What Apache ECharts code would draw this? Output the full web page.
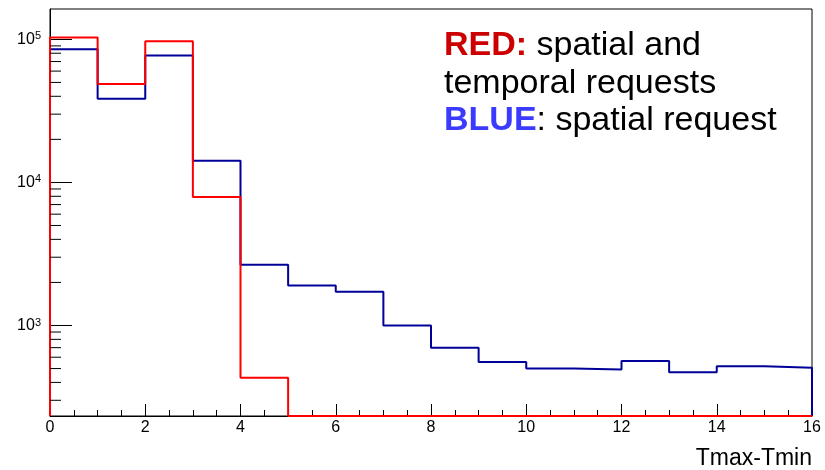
<!DOCTYPE html>
<html>
<head>
<meta charset="utf-8">
<script src="https://cdn.jsdelivr.net/npm/echarts@6/dist/echarts.min.js"></script>
<style>
  html, body { margin: 0; padding: 0; background: #fff; }
  #chart { width: 825px; height: 470px; }
</style>
</head>
<body>
<div id="chart"></div>
<script>
// ---- data ----
const BIN_EDGES = [0, 1, 2, 3, 4, 5, 6, 7, 8, 9, 10, 11, 12, 13, 14, 15, 16];
const BLUE_COUNTS = [85300, 38500, 77000, 14200, 2660, 1900, 1720, 1000, 700, 555, 500, 493, 564, 472, 518, 507];
const RED_COUNTS = [103000, 48800, 97000, 7900, 431, 0, 0, 0, 0, 0, 0, 0, 0, 0, 0, 0];
const X_TICKS = [0, 2, 4, 6, 8, 10, 12, 14, 16];
const Y_MAJOR_TICKS = [1000, 10000, 100000];
const Y_MINOR_TICKS = [300, 400, 500, 600, 700, 800, 900,
  2000, 3000, 4000, 5000, 6000, 7000, 8000, 9000,
  20000, 30000, 40000, 50000, 60000, 70000, 80000, 90000];
const Y_MIN = 233;
const Y_MAX = 163000;
const X_TITLE = 'Tmax-Tmin';

const FONT = '"Liberation Sans", Arial, Helvetica, sans-serif';

function histPoints(counts) {
  const pts = [[BIN_EDGES[0], Y_MIN]];
  counts.forEach((c, i) => pts.push([BIN_EDGES[i], c > 0 ? c : Y_MIN]));
  const last = counts[counts.length - 1];
  pts.push([BIN_EDGES[BIN_EDGES.length - 1], last > 0 ? last : Y_MIN]);
  pts.push([BIN_EDGES[BIN_EDGES.length - 1], Y_MIN]);
  return pts;
}

const chart = echarts.init(document.getElementById('chart'), null, { renderer: 'canvas' });

const option = {
  animation: false,
  backgroundColor: '#ffffff',
  textStyle: { fontFamily: FONT },
  title: {
    left: 444,
    top: 27,
    padding: 0,
    text: '{r|RED:}{n| spatial and}\n{n|temporal requests}\n{b|BLUE}{n|: spatial request}',
    textStyle: {
      fontFamily: FONT,
      rich: {
        r: { color: '#cc0000', fontWeight: 'bold', fontSize: 34, lineHeight: 37.5, fontFamily: FONT },
        b: { color: '#3b3bff', fontWeight: 'bold', fontSize: 34, lineHeight: 37.5, fontFamily: FONT },
        n: { color: '#000000', fontWeight: 'normal', fontSize: 34, lineHeight: 37.5, fontFamily: FONT }
      }
    }
  },
  grid: {
    left: 50, right: 13, top: 9, bottom: 54,
    show: true, borderColor: '#000', borderWidth: 1, backgroundColor: 'transparent'
  },
  xAxis: {
    type: 'value',
    min: X_TICKS[0],
    max: X_TICKS[X_TICKS.length - 1],
    interval: X_TICKS[1] - X_TICKS[0],
    name: X_TITLE,
    nameLocation: 'end',
    nameGap: 0,
    nameTextStyle: {
      fontFamily: FONT, fontSize: 23, color: '#000',
      align: 'right', verticalAlign: 'top', padding: [31, 0, 0, 0]
    },
    axisLine: { show: true, lineStyle: { color: '#000', width: 1 } },
    axisTick: { show: true, inside: true, length: 12, lineStyle: { color: '#000' } },
    minorTick: { show: true, splitNumber: 4, length: 6, lineStyle: { color: '#000' } },
    splitLine: { show: false },
    axisLabel: { color: '#000', fontSize: 16, margin: 4, fontFamily: FONT }
  },
  yAxis: {
    type: 'log',
    logBase: 10,
    min: Y_MIN,
    max: Y_MAX,
    axisLine: { show: true, lineStyle: { color: '#000', width: 1 } },
    axisTick: { show: true, inside: true, length: 22, lineStyle: { color: '#000' } },
    splitLine: { show: false },
    axisLabel: {
      showMinLabel: false,
      showMaxLabel: false,
      margin: 9,
      formatter: function (v) {
        const e = Math.log10(v);
        if (Math.abs(e - Math.round(e)) > 1e-6) return '';
        if (Y_MAJOR_TICKS.indexOf(Math.round(Math.pow(10, Math.round(e)))) < 0) return '';
        return '{b|10}{s|' + Math.round(e) + '}';
      },
      rich: {
        b: { fontSize: 16, color: '#000', lineHeight: 17, verticalAlign: 'bottom', fontFamily: FONT },
        s: { fontSize: 11, color: '#000', lineHeight: 10, verticalAlign: 'top', fontFamily: FONT }
      }
    }
  },
  series: [
    {
      type: 'custom',
      silent: true,
      clip: false,
      z: 5,
      data: Y_MINOR_TICKS.map(v => [BIN_EDGES[0], v]),
      renderItem: function (params, api) {
        const p = api.coord([api.value(0), api.value(1)]);
        return {
          type: 'line',
          shape: { x1: p[0], y1: p[1], x2: p[0] + 11, y2: p[1] },
          style: { stroke: '#000', lineWidth: 1 }
        };
      }
    },
    {
      name: 'BLUE',
      type: 'line',
      step: 'end',
      clip: false,
      symbol: 'none',
      z: 3,
      lineStyle: { color: '#000099', width: 2 },
      data: histPoints(BLUE_COUNTS)
    },
    {
      name: 'RED',
      type: 'line',
      step: 'end',
      clip: false,
      symbol: 'none',
      z: 4,
      lineStyle: { color: '#ff0000', width: 2 },
      data: histPoints(RED_COUNTS)
    }
  ]
};

chart.setOption(option);
</script>
</body>
</html>
